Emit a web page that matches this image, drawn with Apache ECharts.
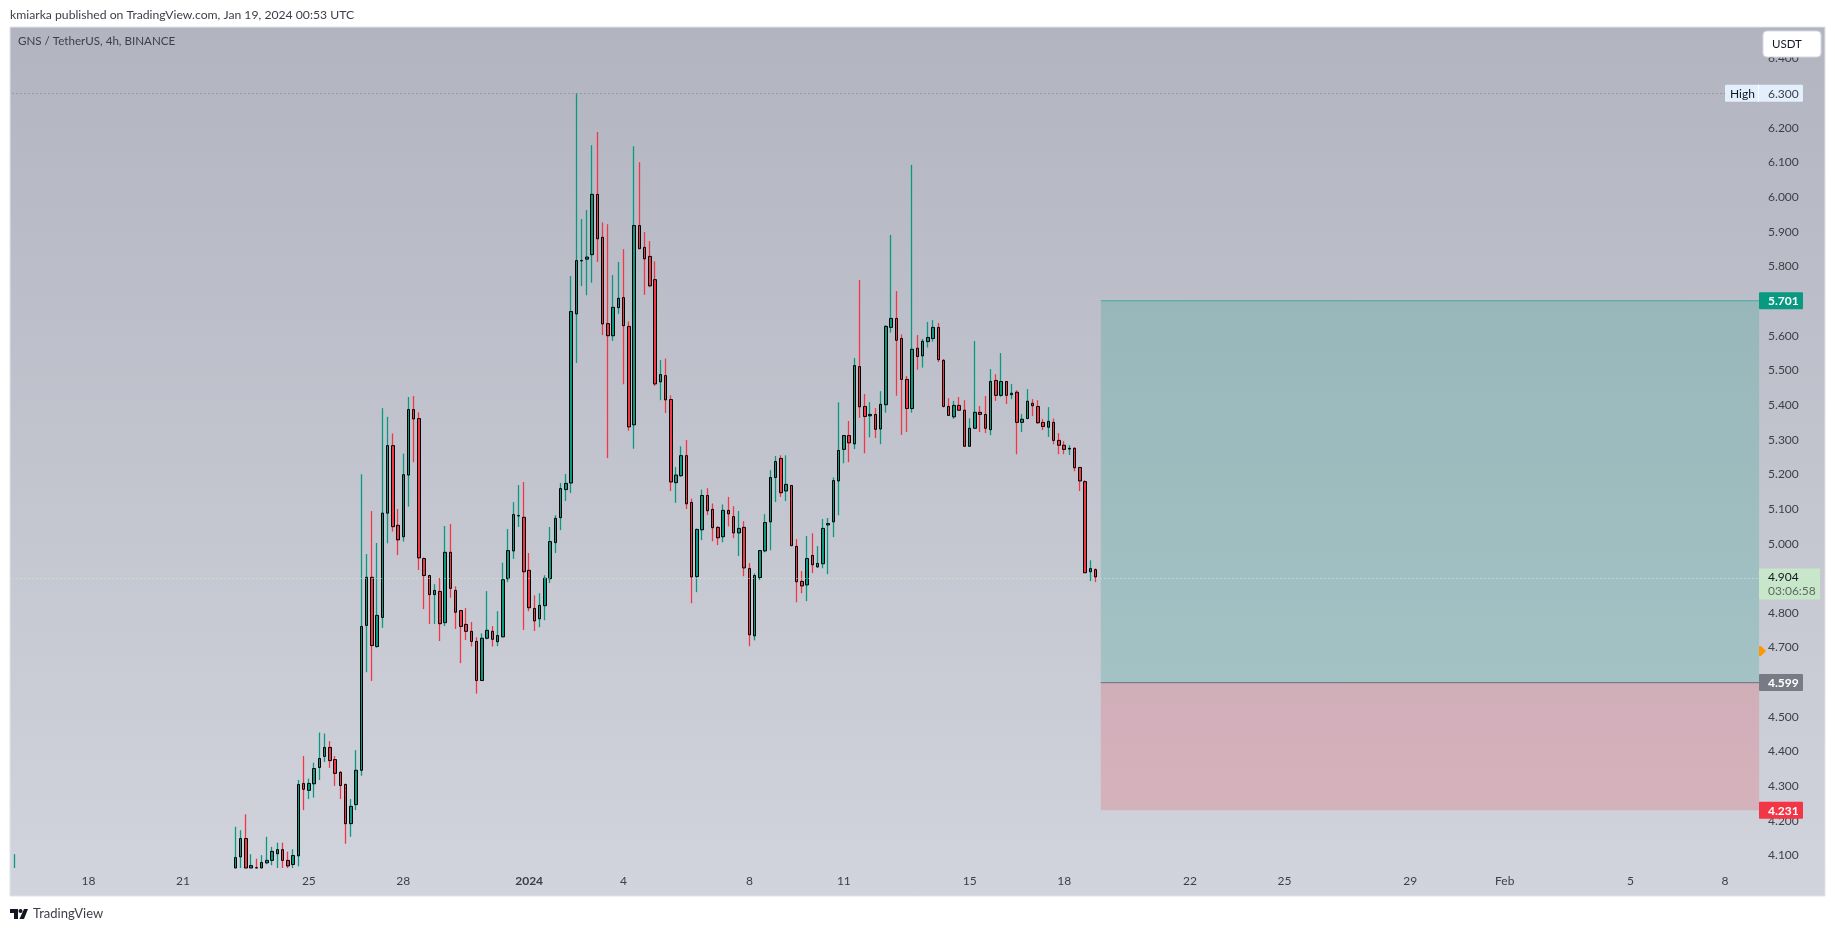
<!DOCTYPE html>
<html>
<head>
<meta charset="utf-8">
<title>GNS / TetherUS</title>
<style>
html, body { margin: 0; background: #fff; }
#chart { width: 1835px; height: 931px; }
</style>
<script src="https://cdn.jsdelivr.net/npm/echarts@6/dist/echarts.min.js"></script>
</head>
<body>
<div id="chart"></div>
<script>
const upColor = '#089981'
const downColor = '#f23645'
const fontFamily = 'Lato, "Noto Sans", sans-serif'

// 4h bars, the first one sits at firstBarTime
const axisStart = Date.UTC(2023, 11, 15, 16)
const axisBarCount = 333
const firstBarTime = '2023-12-22 16:00'
const earlyWick = { time: '2023-12-15 16:00', low: 4.064, high: 4.104 }

const opens = [
    4.064, 4.096, 4.149, 4.064, 4.065, 4.064, 4.079, 4.086, 4.105, 4.117, 4.086, 4.074, 4.099, 4.308, 4.288, 4.307, 4.354, 4.386, 4.412, 4.377,
    4.340, 4.305, 4.192, 4.247, 4.346, 4.764, 4.903, 4.703, 4.787, 5.088, 5.283, 5.053, 5.020, 5.198, 5.387, 5.361, 4.957, 4.908, 4.853, 4.862,
    4.772, 4.975, 4.865, 4.807, 4.767, 4.747, 4.718, 4.605, 4.727, 4.747, 4.717, 4.731, 4.899, 4.979, 5.080, 5.076, 4.923, 4.813, 4.783, 4.821,
    4.899, 5.003, 5.075, 5.156, 5.175, 5.663, 5.816, 5.821, 5.834, 6.008, 5.884, 5.635, 5.600, 5.681, 5.710, 5.627, 5.343, 5.918, 5.855, 5.829,
    5.762, 5.467, 5.485, 5.416, 5.176, 5.196, 5.254, 5.119, 4.905, 5.040, 5.139, 5.099, 5.047, 5.020, 5.096, 5.078, 5.031, 5.047, 4.928, 4.734,
    4.902, 4.979, 5.063, 5.191, 5.246, 5.152, 5.168, 4.992, 4.891, 4.881, 4.966, 4.933, 4.942, 5.054, 5.063, 5.181, 5.272, 5.312, 5.288, 5.511,
    5.396, 5.369, 5.373, 5.331, 5.401, 5.624, 5.650, 5.592, 5.474, 5.390, 5.564, 5.542, 5.583, 5.592, 5.624, 5.529, 5.396, 5.366, 5.399, 5.385,
    5.281, 5.333, 5.379, 5.373, 5.329, 5.471, 5.428, 5.468, 5.430, 5.437, 5.350, 5.361, 5.405, 5.396, 5.350, 5.336, 5.350, 5.298, 5.284, 5.273,
    5.275, 5.220, 5.179, 4.919, 4.925
]
const closes = [
    4.094, 4.149, 4.064, 4.071, 4.064, 4.080, 4.086, 4.112, 4.117, 4.086, 4.070, 4.100, 4.305, 4.291, 4.308, 4.351, 4.380, 4.412, 4.374, 4.337,
    4.302, 4.192, 4.242, 4.346, 4.761, 4.903, 4.706, 4.793, 5.088, 5.283, 5.049, 5.011, 5.199, 5.387, 5.360, 4.959, 4.908, 4.853, 4.865, 4.769,
    4.975, 4.871, 4.802, 4.761, 4.747, 4.718, 4.605, 4.727, 4.750, 4.724, 4.735, 4.896, 4.980, 5.084, 5.081, 4.919, 4.815, 4.777, 4.822, 4.900,
    5.006, 5.073, 5.159, 5.174, 5.670, 5.817, 5.817, 5.827, 6.008, 5.880, 5.634, 5.600, 5.682, 5.708, 5.629, 5.337, 5.918, 5.851, 5.822, 5.744,
    5.461, 5.488, 5.415, 5.178, 5.198, 5.254, 5.115, 4.904, 5.041, 5.139, 5.095, 5.046, 5.017, 5.096, 5.086, 5.031, 5.044, 4.930, 4.737, 4.908,
    4.980, 5.061, 5.191, 5.237, 5.147, 5.171, 4.994, 4.890, 4.878, 4.957, 4.939, 4.943, 5.044, 5.058, 5.182, 5.269, 5.312, 5.291, 5.514, 5.395,
    5.367, 5.373, 5.330, 5.402, 5.627, 5.650, 5.587, 5.474, 5.390, 5.561, 5.540, 5.584, 5.595, 5.624, 5.531, 5.396, 5.370, 5.399, 5.385, 5.281,
    5.333, 5.379, 5.373, 5.333, 5.468, 5.428, 5.468, 5.428, 5.434, 5.350, 5.359, 5.411, 5.398, 5.349, 5.338, 5.353, 5.298, 5.284, 5.272, 5.275,
    5.219, 5.181, 4.916, 4.928, 4.904
]
const lows = [
    4.064, 4.064, 4.064, 4.064, 4.064, 4.064, 4.075, 4.072, 4.064, 4.064, 4.064, 4.064, 4.069, 4.231, 4.263, 4.267, 4.318, 4.370, 4.353, 4.301,
    4.263, 4.134, 4.154, 4.231, 4.330, 4.629, 4.604, 4.700, 4.757, 5.001, 5.035, 4.967, 5.006, 5.107, 5.235, 4.924, 4.811, 4.768, 4.768, 4.719,
    4.762, 4.844, 4.754, 4.655, 4.722, 4.703, 4.567, 4.605, 4.724, 4.703, 4.704, 4.730, 4.889, 4.956, 5.048, 4.751, 4.805, 4.748, 4.759, 4.779,
    4.886, 4.973, 5.039, 5.123, 5.146, 5.521, 5.743, 5.717, 5.753, 5.813, 5.602, 5.247, 5.585, 5.663, 5.460, 5.326, 5.274, 5.851, 5.718, 5.740,
    5.455, 5.414, 5.377, 5.152, 5.118, 5.193, 5.100, 4.828, 4.860, 5.010, 5.083, 5.007, 4.996, 5.004, 5.050, 5.016, 4.964, 4.906, 4.704, 4.721,
    4.895, 4.975, 4.981, 5.120, 5.135, 5.123, 4.994, 4.831, 4.857, 4.834, 4.915, 4.930, 4.929, 4.912, 5.019, 5.082, 5.232, 5.235, 5.273, 5.363,
    5.261, 5.307, 5.305, 5.287, 5.378, 5.609, 5.427, 5.314, 5.322, 5.378, 5.502, 5.508, 5.566, 5.583, 5.524, 5.393, 5.370, 5.360, 5.385, 5.280,
    5.281, 5.333, 5.322, 5.319, 5.313, 5.412, 5.423, 5.403, 5.417, 5.258, 5.322, 5.361, 5.368, 5.345, 5.328, 5.308, 5.287, 5.258, 5.258, 5.256,
    5.209, 5.152, 4.916, 4.892, 4.889
]
const highs = [
    4.183, 4.173, 4.219, 4.104, 4.091, 4.101, 4.154, 4.125, 4.137, 4.137, 4.111, 4.118, 4.318, 4.387, 4.322, 4.368, 4.455, 4.452, 4.430, 4.387,
    4.344, 4.308, 4.263, 4.404, 5.200, 4.970, 5.094, 5.002, 5.391, 5.366, 5.318, 5.100, 5.260, 5.423, 5.426, 5.379, 4.960, 4.910, 4.883, 4.901,
    5.051, 5.057, 4.877, 4.808, 4.814, 4.774, 4.730, 4.741, 4.863, 4.762, 4.805, 4.945, 5.042, 5.120, 5.169, 5.178, 4.973, 4.851, 4.857, 4.909,
    5.048, 5.082, 5.175, 5.201, 5.772, 6.300, 5.937, 5.963, 6.150, 6.188, 5.927, 5.922, 5.775, 5.813, 5.850, 5.641, 6.147, 6.101, 5.899, 5.873,
    5.815, 5.530, 5.534, 5.428, 5.221, 5.281, 5.299, 5.130, 5.044, 5.156, 5.160, 5.116, 5.050, 5.113, 5.135, 5.108, 5.094, 5.065, 4.944, 4.914,
    4.980, 5.085, 5.212, 5.253, 5.255, 5.255, 5.168, 5.013, 4.921, 5.022, 5.030, 4.993, 5.071, 5.074, 5.191, 5.408, 5.313, 5.354, 5.536, 5.761,
    5.432, 5.408, 5.391, 5.440, 5.631, 5.891, 5.729, 5.604, 5.484, 6.093, 5.602, 5.591, 5.640, 5.645, 5.637, 5.533, 5.420, 5.412, 5.423, 5.414,
    5.362, 5.585, 5.397, 5.426, 5.504, 5.489, 5.550, 5.468, 5.461, 5.443, 5.374, 5.446, 5.417, 5.414, 5.360, 5.394, 5.361, 5.319, 5.296, 5.284,
    5.279, 5.220, 5.183, 4.952, 4.929
]

const priceTicks = [4.1, 4.2, 4.3, 4.4, 4.5, 4.6, 4.7, 4.8, 4.9, 5.0, 5.1, 5.2, 5.3, 5.4, 5.5, 5.6, 5.7, 5.8, 5.9, 6.0, 6.1, 6.2, 6.3, 6.4]
const timeTicks = ['2023-12-18 00:00', '2023-12-21 00:00', '2023-12-25 00:00', '2023-12-28 00:00', '2024-01-01 00:00', '2024-01-04 00:00', '2024-01-08 00:00', '2024-01-11 00:00', '2024-01-15 00:00', '2024-01-18 00:00', '2024-01-22 00:00', '2024-01-25 00:00', '2024-01-29 00:00', '2024-02-01 00:00', '2024-02-05 00:00', '2024-02-08 00:00']
const timeLabels = ['18', '21', '25', '28', '2024', '4', '8', '11', '15', '18', '22', '25', '29', 'Feb', '5', '8']

const highPrice = 6.3
const lastPrice = 4.904
const targetPrice = 5.701
const entryPrice = 4.599
const stopPrice = 4.231
const alertPrice = 4.69
const zoneStart = '2024-01-19 04:00'

const pad = (n) => String(n).padStart(2, '0')
const fmtTime = (t) => {
    const d = new Date(t)
    return `${d.getUTCFullYear()}-${pad(d.getUTCMonth() + 1)}-${pad(d.getUTCDate())} ${pad(d.getUTCHours())}:${pad(d.getUTCMinutes())}`
}
const categories = []
for (let i = 0; i < axisBarCount; i++) {
    categories.push(fmtTime(axisStart + i * 4 * 3600 * 1000))
}

const blank = ['-', '-', '-', '-']
const wickData = categories.map(() => blank)
const bodyData = categories.map(() => blank)
const firstBar = categories.indexOf(firstBarTime)
opens.forEach((open, i) => {
    const close = closes[i]
    wickData[firstBar + i] = [open, close, lows[i], highs[i]]
    // 影线单独画，实体这一层不带影线
    bodyData[firstBar + i] = [open, close, Math.min(open, close), Math.max(open, close)]
})
wickData[categories.indexOf(earlyWick.time)] = [earlyWick.low, earlyWick.low, earlyWick.low, earlyWick.high]

const chart = echarts.init(document.getElementById('chart'))
const option = {
    animation: false,
    textStyle: { fontFamily },
    grid: { left: 12.5, top: 27, width: 1746.6, bottom: 63 },
    xAxis: {
        type: 'category',
        data: categories,
        boundaryGap: true,
        axisLine: { show: false },
        axisTick: { show: false },
        splitLine: { show: false },
        axisLabel: {
            interval: (index, value) => timeTicks.includes(value),
            formatter: (value) => {
                const label = timeLabels[timeTicks.indexOf(value)]
                return label === '2024' ? `{year|${label}}` : label
            },
            color: '#3c3f48',
            fontSize: 12,
            fontFamily,
            margin: 7,
            rich: { year: { fontWeight: 'bold', fontSize: 12, color: '#3c3f48', fontFamily } }
        }
    },
    yAxis: {
        type: 'value',
        position: 'right',
        min: 4.064,
        max: 6.491,
        scale: true,
        axisLine: { show: false },
        axisTick: { show: false },
        splitLine: { show: false },
        axisLabel: {
            customValues: priceTicks,
            formatter: (value) => value.toFixed(3),
            color: '#3c3f48',
            fontSize: 12,
            fontFamily,
            margin: 9
        }
    },
    series: [
        {
            name: 'wick',
            type: 'candlestick',
            barWidth: 1,
            itemStyle: {
                color: upColor,
                color0: downColor,
                borderColor: upColor,
                borderColor0: downColor,
                borderColorDoji: upColor,
                borderWidth: 1.3
            },
            data: wickData,
            markLine: {
                silent: true,
                symbol: 'none',
                label: { show: false },
                data: [
                    { yAxis: highPrice, lineStyle: { color: '#787b86', type: [1, 3], width: 1 } },
                    { yAxis: lastPrice, lineStyle: { color: '#d0eecb', type: [1, 3], width: 1 } }
                ]
            },
            markArea: {
                silent: true,
                data: [
                    [{ xAxis: zoneStart, yAxis: targetPrice, itemStyle: { color: 'rgba(8,153,129,0.2)' } }, { yAxis: entryPrice }],
                    [{ xAxis: zoneStart, yAxis: entryPrice, itemStyle: { color: 'rgba(242,54,69,0.2)' } }, { yAxis: stopPrice }],
                    [{ xAxis: zoneStart, yAxis: targetPrice, itemStyle: { color: 'transparent', borderColor: 'rgba(8,153,129,0.35)', borderWidth: 1 } }, { yAxis: targetPrice }],
                    [{ xAxis: zoneStart, yAxis: entryPrice, itemStyle: { color: 'transparent', borderColor: '#787b86', borderWidth: 1 } }, { yAxis: entryPrice }]
                ]
            }
        },
        {
            name: 'body',
            type: 'candlestick',
            barWidth: 3,
            itemStyle: {
                color: upColor,
                color0: downColor,
                borderColor: '#000',
                borderColor0: '#000',
                borderColorDoji: '#000',
                borderWidth: 1
            },
            data: bodyData
        }
    ]
}
chart.setOption(option)

// 右侧价格标签，位置跟着价格轴走
const yOf = (price) => chart.convertToPixel({ yAxisIndex: 0 }, price)
const axisLeft = 1759
const textStyle = (text, x, y, fill, extra) => ({
    type: 'text',
    z: 101,
    style: Object.assign({ text, x, y, fill, font: `12px ${fontFamily}`, verticalAlign: 'middle' }, extra)
})
const rect = (x, y, width, height, fill, r) => ({
    type: 'rect',
    z: 100,
    shape: { x, y, width, height, r: r || 0 },
    style: { fill }
})
const priceTag = (price, fill) => [
    rect(axisLeft, yOf(price) - 8.5, 44, 17, fill, 1),
    textStyle(price.toFixed(3), axisLeft + 9, yOf(price) + 0.5, '#fff', { font: `bold 12px ${fontFamily}` })
]

chart.setOption({
    graphic: [
        {
            type: 'rect',
            z: -10,
            shape: { x: 10, y: 27, width: 1815, height: 869 },
            style: {
                fill: {
                    type: 'linear', x: 0, y: 0, x2: 0, y2: 1,
                    colorStops: [{ offset: 0, color: '#b2b5bf' }, { offset: 1, color: '#d1d4dd' }]
                },
                stroke: '#e0e3eb',
                lineWidth: 1
            }
        },
        textStyle('kmiarka published on TradingView.com, Jan 19, 2024 00:53 UTC', 10, 15, '#3c3f48', { font: `12.2px ${fontFamily}` }),
        textStyle('GNS / TetherUS, 4h, BINANCE', 18, 41, '#3c3f48', { font: `11.6px ${fontFamily}` }),

        // USDT 按钮
        {
            type: 'rect',
            z: 100,
            shape: { x: 1763, y: 31, width: 58, height: 26, r: 4 },
            style: { fill: '#fff', stroke: '#d6d8e0', lineWidth: 1 }
        },
        textStyle('USDT', 1772, 44, '#131722', { font: `11.5px ${fontFamily}` }),

        rect(1725, yOf(highPrice) - 8.5, 78, 17, '#e3effd', 1),
        rect(1758, yOf(highPrice) - 8.5, 1, 17, '#fff'),
        textStyle('High', 1730, yOf(highPrice) + 0.5, '#131722'),
        textStyle(highPrice.toFixed(3), axisLeft + 9, yOf(highPrice) + 0.5, '#3c3f48'),

        ...priceTag(targetPrice, upColor),
        ...priceTag(entryPrice, '#787b86'),
        ...priceTag(stopPrice, downColor),

        rect(axisLeft, yOf(lastPrice) - 8.5, 61, 31, '#c8e6c9', 1),
        textStyle(lastPrice.toFixed(3), axisLeft + 9, yOf(lastPrice), '#131722'),
        textStyle('03:06:58', axisLeft + 9, yOf(lastPrice) + 14, '#5d6a60'),

        {
            type: 'polygon',
            z: 100,
            shape: { points: [[axisLeft, yOf(alertPrice) - 5], [axisLeft + 2, yOf(alertPrice) - 5], [axisLeft + 7, yOf(alertPrice)], [axisLeft + 2, yOf(alertPrice) + 5], [axisLeft, yOf(alertPrice) + 5]] },
            style: { fill: '#ff9800' }
        },

        // TradingView 标志
        { type: 'polygon', z: 100, shape: { points: [[10, 909], [18, 909], [18, 919], [14, 919], [14, 913], [10, 913]] }, style: { fill: '#131722' } },
        { type: 'circle', z: 100, shape: { cx: 20.5, cy: 911, r: 2 }, style: { fill: '#131722' } },
        { type: 'polygon', z: 100, shape: { points: [[24, 909], [28, 909], [24, 919], [19.5, 919]] }, style: { fill: '#131722' } },
        textStyle('TradingView', 33, 914, '#3c3f48', { font: `13px ${fontFamily}` })
    ]
})
</script>
</body>
</html>
